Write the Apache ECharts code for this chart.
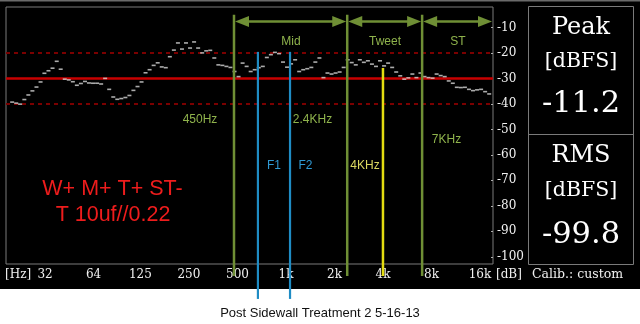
<!DOCTYPE html>
<html><head><meta charset="utf-8">
<script src="https://cdn.jsdelivr.net/npm/echarts@6/dist/echarts.min.js"></script>
<style>html,body{margin:0;padding:0;background:#fff}#c{width:640px;height:324px}</style>
</head><body><div id="c"></div>
<script>
// 1/12-octave band centre frequencies (Hz)
const freqs = [
  20,21.2,22.4,23.8,25.2,26.7,28.3,30,31.7,33.6,35.6,37.8,
  40,42.4,44.9,47.6,50.4,53.4,56.6,59.9,63.5,67.3,71.3,75.5,
  80,84.8,89.8,95.1,100.8,106.8,113.1,119.9,127,134.5,142.5,151,
  160,169.5,179.6,190.3,201.6,213.6,226.3,239.7,254,269.1,285.1,302.1,
  320,339,359.2,380.6,403.2,427.1,452.5,479.5,508,538.2,570.2,604.1,
  640,678.1,718.4,761.1,806.3,854.3,905.1,958.9,1016,1076,1140,1208,
  1280,1356,1437,1522,1613,1709,1810,1918,2032,2153,2281,2417,
  2560,2712,2874,3044,3225,3417,3620,3836,4064,4305,4561,4833,
  5120,5424,5747,6089,6451,6834,7241,7671,8127,8611,9123,9665,
  10240,10849,11494,12177,12902,13669,14482,15343,16255,17222,18246
];
// measured level per band (dB)
const levels = [
  -39.3,-39.7,-40.1,-38.3,-36.5,-34.9,-33.4,-31.4,-28.0,-27.0,-26.0,-23.3,
  -26.4,-30.3,-30.6,-31.3,-32.7,-32.0,-31.2,-31.8,-31.9,-31.9,-32.2,-30.0,
  -34.3,-37.3,-38.2,-37.9,-37.5,-36.7,-34.7,-33.2,-31.4,-27.8,-26.6,-24.9,
  -23.9,-25.5,-25.8,-21.5,-18.9,-16.1,-18.5,-16.1,-18.1,-15.7,-18.1,-20.0,
  -19.2,-19.0,-22.0,-24.7,-24.9,-25.3,-25.7,-27.3,-29.3,-24.0,-25.3,-27.3,
  -26.6,-25.8,-25.3,-21.8,-20.7,-19.8,-20.3,-23.6,-25.6,-24.3,-22.7,-27.3,
  -26.6,-26.2,-25.7,-23.6,-22.0,-29.7,-27.9,-28.3,-27.9,-27.5,-25.7,-22.7,
  -23.8,-24.7,-22.7,-23.7,-23.1,-24.4,-25.3,-23.1,-25.1,-24.0,-25.7,-27.5,
  -29.0,-30.3,-29.8,-28.3,-29.7,-27.9,-29.3,-29.7,-29.9,-28.3,-28.9,-29.3,
  -31.0,-31.9,-33.5,-33.6,-33.5,-34.3,-34.8,-34.5,-34.3,-35.2,-36.1
];
const xTickValues = [32,64,125,250,500,1000,2000,4000,8000,16000];
const xTickLabels = ['32','64','125','250','500','1k','2k','4k','8k','16k'];
const yTickValues = [-10,-20,-30,-40,-50,-60,-70,-80,-90,-100];
const refSolid = [-30];
const refDashed = [-20,-40];
// vertical annotation lines: [freq, top dB, bottom dB]
const greenLines = [[476,-5,-107.5],[2400,-5,-107.5],[7000,-5,-107.5]];
const bandArrows = [[476,2400,-7.7],[2400,7000,-7.7],[7000,19270,-7.7]];
const bandNames = ['Mid','Tweet','ST'];
const blueLines = [[670,-19.6,-116.5],[1060,-19.6,-116.5]];
const yellowLines = [[4000,-25.9,-107.5]];
const peakValue = '-11.2';
const rmsValue = '-99.8';

const GREEN = '#6f8f35', GREEN_T = '#8fb34c', BLUE = '#1f8cc4', BLUE_T = '#2f9ad4', YEL = '#e3dc10', YEL_T = '#dcd860';
const SERIF = 'DejaVu Serif', SANS = 'Liberation Sans';

function vline(color, width){
  return function(params, api){
    const p1 = api.coord([api.value(0), api.value(1)]);
    const p2 = api.coord([api.value(0), api.value(2)]);
    return {type:'line', shape:{x1:p1[0],y1:p1[1],x2:p2[0],y2:p2[1]}, style:{stroke:color, lineWidth:width}};
  };
}
function nearestLabel(v){
  let bi=0, bd=1e9;
  xTickValues.forEach((t,i)=>{const d=Math.abs(Math.log(v/t)); if(d<bd){bd=d;bi=i;}});
  return xTickLabels[bi];
}
function txt(text,x,y,color,size,family,align){
  return {type:'text', x:x, y:y, z:10, style:{text:text, fill:color, fontSize:size, fontFamily:family, textAlign:align||'center', textVerticalAlign:'middle'}};
}

const chart = echarts.init(document.getElementById('c'), null, {renderer:'canvas'});
chart.setOption({
  backgroundColor:'#000',
  animation:false,
  title:{text:'Post Sidewall Treatment 2 5-16-13', left:'center', top:302,
    textStyle:{fontFamily:SANS, fontSize:13, fontWeight:'normal', color:'#111'}},
  grid:{left:6, top:7, right:147, bottom:60, show:true, borderColor:'#7a7a7a', borderWidth:1},
  xAxis:{type:'log', logBase:2, min:18.31, max:19270,
    splitLine:{show:false}, axisLine:{show:false}, axisTick:{show:false},
    axisLabel:{customValues:xTickValues, formatter:nearestLabel, color:'#f0f0f0', fontFamily:SERIF, fontSize:12, margin:5}},
  yAxis:{type:'value', position:'right', min:-102.8, max:-2,
    splitLine:{show:false}, axisLine:{show:false},
    axisTick:{show:true, inside:true, length:2, customValues:yTickValues, lineStyle:{color:'#aaa'}},
    axisLabel:{customValues:yTickValues, color:'#f0f0f0', fontFamily:SERIF, fontSize:12, margin:4}},
  series:[
    {type:'scatter', symbol:'rect', symbolSize:[4,1.6], itemStyle:{color:'#d6d6d6'}, z:5,
     data: freqs.map((f,i)=>[f, levels[i]]),
     markLine:{silent:true, symbol:'none', label:{show:false},
       data: refSolid.map(v=>({yAxis:v, lineStyle:{color:'#c80000', width:2.5, type:'solid'}}))
         .concat(refDashed.map(v=>({yAxis:v, lineStyle:{color:'#7a0000', width:2, type:[4,4]}})))}},
    {type:'custom', clip:false, z:6, renderItem:vline(GREEN,2.5), data:greenLines},
    {type:'custom', clip:false, z:6, renderItem:vline(BLUE,2.2), data:blueLines},
    {type:'custom', clip:false, z:6, renderItem:vline(YEL,2.5), data:yellowLines},
    {type:'custom', clip:false, z:7, data:bandArrows, renderItem:function(params, api){
      const a = api.coord([api.value(0), api.value(2)]);
      const b = api.coord([api.value(1), api.value(2)]);
      const L=15, H=5.5, y=a[1];
      return {type:'group', children:[
        {type:'line', shape:{x1:a[0]+L-2,y1:y,x2:b[0]-L+2,y2:y}, style:{stroke:GREEN, lineWidth:2.5}},
        {type:'polygon', shape:{points:[[a[0]+1,y],[a[0]+L,y-H],[a[0]+L,y+H]]}, style:{fill:GREEN}},
        {type:'polygon', shape:{points:[[b[0]-1,y],[b[0]-L,y-H],[b[0]-L,y+H]]}, style:{fill:GREEN}}
      ]};
    }}
  ],
  graphic:[
    {type:'rect', z:0, shape:{x:0,y:289,width:640,height:35}, style:{fill:'#fff'}},
    {type:'rect', z:0, shape:{x:0,y:0,width:640,height:1.5}, style:{fill:'#6a6a6a'}},
    {type:'rect', z:1, shape:{x:528.5,y:6.5,width:105,height:258}, style:{fill:'none', stroke:'#7a7a7a', lineWidth:1}},
    {type:'line', z:1, shape:{x1:528.5,y1:134.5,x2:633.5,y2:134.5}, style:{stroke:'#7a7a7a', lineWidth:1}},
    txt('Peak',581,28,'#fff',24,SERIF),
    txt('[dBFS]',581,62,'#fff',20.5,SERIF),
    txt(peakValue,581,104,'#fff',30.5,SERIF),
    txt('RMS',581,156,'#fff',24,SERIF),
    txt('[dBFS]',581,191,'#fff',20.5,SERIF),
    txt(rmsValue,581,235,'#fff',30.5,SERIF),
    txt('[Hz]',5,275,'#f0f0f0',12,SERIF,'left'),
    txt('[dB]',496,275,'#f0f0f0',12,SERIF,'left'),
    txt('Calib.: custom',532,275,'#f0f0f0',12.5,SERIF,'left'),
    txt(bandNames[0],291,42,GREEN_T,12,SANS),
    txt(bandNames[1],385,42,GREEN_T,12,SANS),
    txt(bandNames[2],458,42,GREEN_T,12,SANS),
    txt('450Hz',200,120,GREEN_T,12,SANS),
    txt('2.4KHz',312.5,120,GREEN_T,12,SANS),
    txt('7KHz',446.5,140,GREEN_T,12,SANS),
    txt('F1',274,166,BLUE_T,12,SANS),
    txt('F2',305.5,166,BLUE_T,12,SANS),
    txt('4KHz',365,166,YEL_T,12,SANS),
    txt('W+ M+ T+ ST-',112.5,189,'#ee1c1c',21.5,SANS),
    txt('T 10uf//0.22',113,215,'#ee1c1c',21.5,SANS)
  ]
});
</script></body></html>
